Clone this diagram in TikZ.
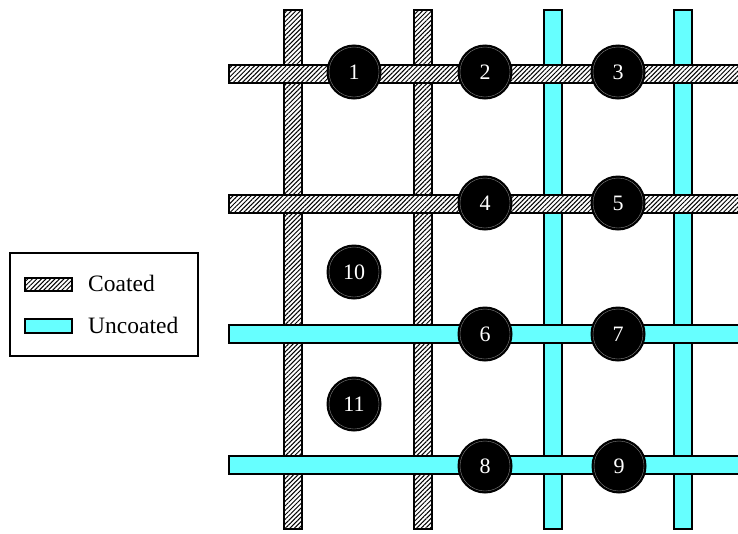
\documentclass[tikz,border=0pt]{standalone}
\usepackage{fontspec}
\setmainfont{Liberation Serif}
\usetikzlibrary{patterns.meta}
\definecolor{cyanbar}{RGB}{102,255,255}
\begin{document}
\begin{tikzpicture}[x=1pt,y=-1pt,
  coated/.style={draw=black,line width=2pt,preaction={fill=white},
    pattern={Lines[angle=45,distance=3.2pt,line width=1pt]}},
  uncoated/.style={draw=black,line width=2pt,fill=cyanbar},
  joint/.style={circle,fill=black,draw=black,line width=1pt,minimum size=54pt,
    inner sep=0pt,text=white,font=\fontsize{22}{22}\selectfont,
    path picture={\draw[gray,line width=0.4pt] (path picture bounding box.center) circle (25pt);}},
  legendtext/.style={anchor=west,inner sep=0pt,font=\fontsize{23.5}{23.5}\selectfont}
]
\useasboundingbox (0,0) rectangle (738,533);
% vertical bars
\draw[coated]   (284,10) rectangle (302,529);
\draw[coated]   (414,10) rectangle (432,529);
\draw[uncoated] (543.5,10) rectangle (561.5,529);
\draw[uncoated] (673.5,10) rectangle (691.5,529);
% horizontal bars
\draw[coated]   (229,65) rectangle (745,83);
\draw[coated]   (229,195) rectangle (745,213);
\draw[uncoated] (229,325) rectangle (745,343);
\draw[uncoated] (229,456) rectangle (745,474);
% joints
\node[joint] (n1) at (354,72) {1};
\node[joint] (n2) at (485,72) {2};
\node[joint] (n3) at (618,72) {3};
\node[joint] (n4) at (485,203) {4};
\node[joint] (n5) at (618,203) {5};
\node[joint] (n6) at (485,334) {6};
\node[joint] (n7) at (618,334) {7};
\node[joint] (n8) at (485,466) {8};
\node[joint] (n9) at (619,466) {9};
\node[joint] (n10) at (354,272) {10};
\node[joint] (n11) at (354,404) {11};
% legend
\draw[black,line width=2pt] (10,253) rectangle (198,356);
\draw[coated,line width=1.8pt] (25,278) rectangle (72,291);
\draw[uncoated,line width=1.8pt] (25,319) rectangle (72,333);
\node[legendtext] (lc) at (88,283) {Coated};
\node[legendtext] (lu) at (88,325) {Uncoated};
\end{tikzpicture}
\end{document}
